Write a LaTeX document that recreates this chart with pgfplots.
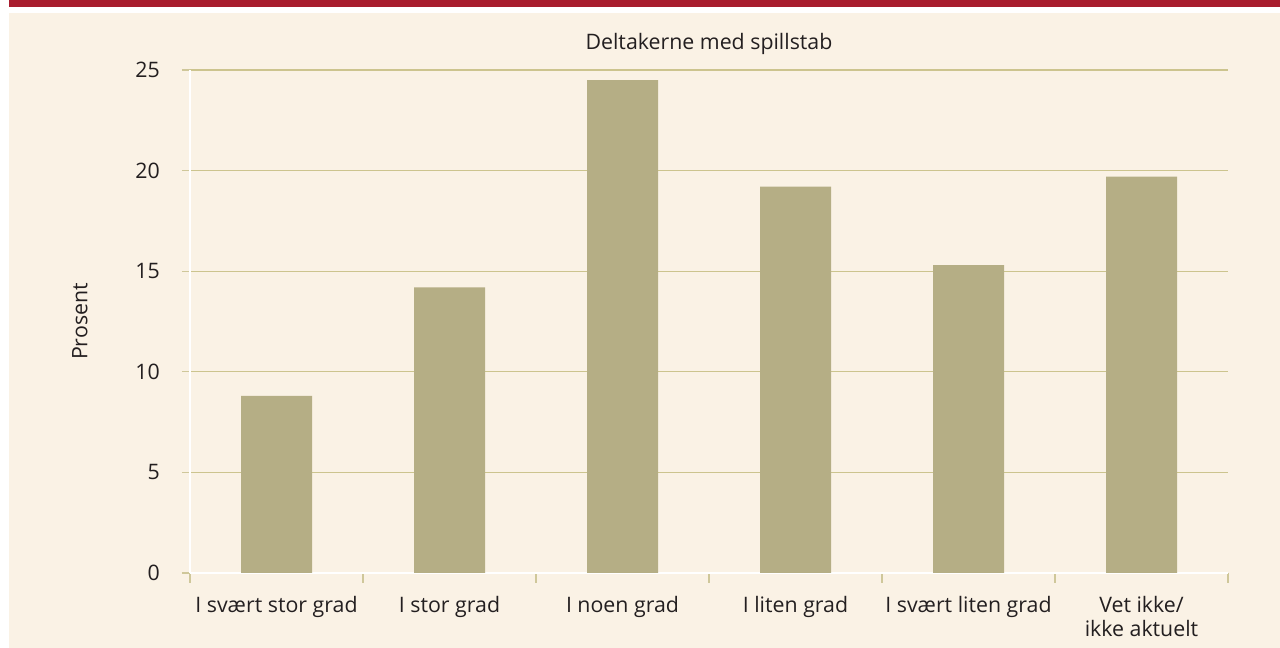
\documentclass[border=0pt]{standalone}
\usepackage{pgfplots}
\pgfplotsset{compat=1.18}
\usepackage{fontspec}
\setmainfont{Open Sans}
\definecolor{band}{HTML}{A81C2E}
\definecolor{cream}{HTML}{FAF2E5}
\definecolor{barc}{HTML}{B5AE85}
\definecolor{gridc}{HTML}{CCC48E}
\definecolor{tickc}{HTML}{CFC79A}
\definecolor{txt}{HTML}{231F20}
\begin{document}
\fontsize{16pt}{18pt}\selectfont
\begin{tikzpicture}[x=0.75pt,y=0.75pt]
\useasboundingbox (0,0) rectangle (1280,648);
\fill[white] (0,0) rectangle (1280,648);
\fill[band] (9,641) rectangle (1280,648);
\fill[cream] (9,0) rectangle (1280,635);
\begin{axis}[
  at={(142.5pt,56.25pt)}, anchor=south west,
  scale only axis, width=778.5pt, height=377.25pt,
  xmin=-0.5, xmax=5.5, ymin=0, ymax=25,
  ybar, bar width=53.25pt,
  axis x line*=bottom, axis y line*=left,
  axis line style={white, line width=1.5pt, -},
  tick align=outside,
  ytick={0,5,...,25},
  ymajorgrids,
  grid style={gridc, line width=0.9pt},
  ytick style={tickc, line width=0.9pt},
  major tick length=6pt,
  xtick={0,...,5},
  major x tick style={draw=none},
  minor xtick={-0.5,0.5,...,5.5},
  minor tick length=7.5pt,
  minor x tick style={tickc, line width=0.9pt},
  xticklabels={I svært stor grad, I stor grad, I noen grad, I liten grad, I svært liten grad, {\begin{tabular}[t]{@{}c@{}}Vet ikke/\\ikke aktuelt\end{tabular}}},
  xticklabel style={anchor=base, yshift=-24pt, inner sep=0pt, text=txt},
  yticklabel style={anchor=east, inner sep=0pt, xshift=-16.5pt, text=txt},
  /pgf/number format/assume math mode=true,
  title={Deltakerne med spillstab},
  title style={at={(axis description cs:0.5,1)}, anchor=base, yshift=9pt, inner sep=0pt, text=txt},
  ylabel={Prosent},
  ylabel style={at={(axis description cs:-0.106,0.5)}, anchor=center, text=txt},
]
\addplot[fill=barc, draw=none, bar shift=0pt] coordinates {(0,8.8) (1,14.2) (2,24.5) (3,19.2) (4,15.3) (5,19.7)};
\end{axis}
\end{tikzpicture}
\end{document}
